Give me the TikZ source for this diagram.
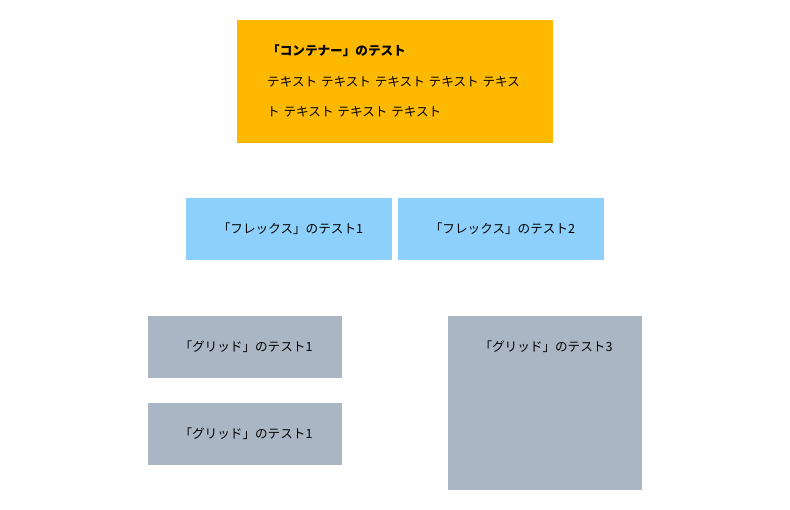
\documentclass[tikz,border=0pt]{standalone}
\usepackage{fontspec}
\setmainfont{Noto Sans CJK JP}
\definecolor{boxorange}{HTML}{FDB900}
\definecolor{boxblue}{HTML}{8DD0FC}
\definecolor{boxgray}{HTML}{AAB6C3}
\begin{document}
\begin{tikzpicture}[x=1pt,y=-1pt,
  panel/.style={anchor=north west,inner sep=0pt,outer sep=0pt,draw=none},
  txt/.style={inner sep=0pt,font=\fontsize{12.6}{15}\selectfont,text=black}]
\useasboundingbox (0,0) rectangle (790,510);
% container
\node[panel,fill=boxorange,minimum width=316pt,minimum height=123pt] (cont) at (237,20) {};
\node[txt,anchor=base west,font=\fontsize{12.6}{15}\selectfont\bfseries] (title) at (267,56) {「コンテナー」のテスト};
\node[txt,anchor=base west] (line1) at (267,86.5) {テキスト\hspace{1pt} テキスト\hspace{1pt} テキスト\hspace{1pt} テキスト\hspace{1pt} テキス};
\node[txt,anchor=base west] (line2) at (267,116.5) {ト\hspace{1pt} テキスト\hspace{1pt} テキスト\hspace{1pt} テキスト};
% flex
\node[panel,fill=boxblue,minimum width=206pt,minimum height=62pt] (flex1) at (186,198) {};
\node[panel,fill=boxblue,minimum width=206pt,minimum height=62pt] (flex2) at (398,198) {};
\node[txt] (flex1t) at ([xshift=1.5pt]flex1.center) {「フレックス」のテスト1};
\node[txt] (flex2t) at ([xshift=1.5pt]flex2.center) {「フレックス」のテスト2};
% grid
\node[panel,fill=boxgray,minimum width=194pt,minimum height=62pt] (grid1) at (148,316) {};
\node[panel,fill=boxgray,minimum width=194pt,minimum height=62pt] (grid2) at (148,403) {};
\node[panel,fill=boxgray,minimum width=194pt,minimum height=174pt] (grid3) at (448,316) {};
\node[txt] (grid1t) at ([xshift=1pt]grid1.center) {「グリッド」のテスト1};
\node[txt] (grid2t) at ([xshift=1pt]grid2.center) {「グリッド」のテスト1};
\node[txt] (grid3t) at (546,347) {「グリッド」のテスト3};
\end{tikzpicture}
\end{document}
